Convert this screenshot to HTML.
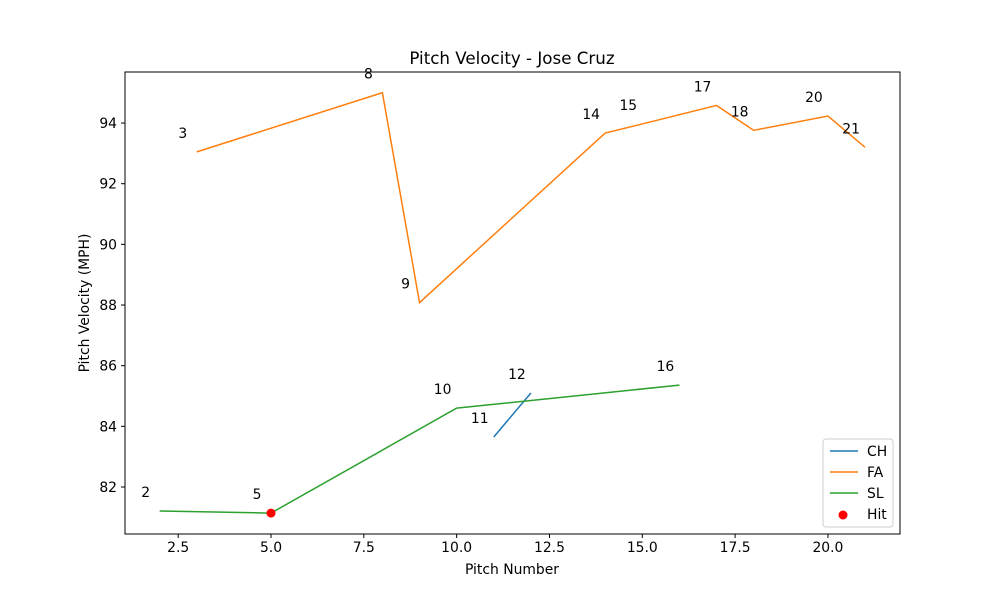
<!DOCTYPE html>
<html><head><meta charset="utf-8"><style>body{margin:0;background:#fff}svg{display:block;font-family:"DejaVu Sans","Liberation Sans",sans-serif}</style></head>
<body>
<svg id="chart" width="1000" height="600">
<rect x="0" y="0" width="1000" height="600" fill="#fff"/>
<text x="512" y="64" text-anchor="middle" font-size="16.7">Pitch Velocity - Jose Cruz</text>
<g id="plot"></g>
<rect x="125" y="72" width="775" height="462" fill="none" stroke="#000" stroke-width="1"/>
<text x="512" y="574" text-anchor="middle" font-size="13.9">Pitch Number</text>
<text transform="translate(89,303) rotate(-90)" text-anchor="middle" font-size="13.9">Pitch Velocity (MPH)</text>
<g>
<rect x="823" y="439" width="70" height="88" rx="3" fill="#fff" stroke="#ccc"/>
<line x1="830" y1="451" x2="858" y2="451" stroke="#1f77b4" stroke-width="1.5"/><text x="867" y="456" font-size="13.9">CH</text>
<line x1="830" y1="472" x2="858" y2="472" stroke="#ff7f0e" stroke-width="1.5"/><text x="867" y="477" font-size="13.9">FA</text>
<line x1="830" y1="493" x2="858" y2="493" stroke="#2ca02c" stroke-width="1.5"/><text x="867" y="498" font-size="13.9">SL</text>
<circle cx="843" cy="515" r="4.5" fill="red"/><text x="867" y="519" font-size="13.9">Hit</text>
</g>
</svg>
<script>
const xTicks=[2.5,5.0,7.5,10.0,12.5,15.0,17.5,20.0];
const yTicks=[82,84,86,88,90,92,94];
const chX=[11,12], chV=[83.65,85.1];
const faX=[3,8,9,14,15,17,18,20,21], faV=[93.05,95.0,88.08,93.67,93.97,94.58,93.76,94.23,93.2];
const slX=[2,5,10,16], slV=[81.21,81.14,84.6,85.36];
const hitX=[5], hitV=[81.14];
const NS="http://www.w3.org/2000/svg";
const sx=v=>271+(v-5)*37.13, sy=v=>487-(v-82)*30.33;
const g=document.getElementById('plot');
function el(t,a){const e=document.createElementNS(NS,t);for(const k in a)e.setAttribute(k,a[k]);g.appendChild(e);return e;}
xTicks.forEach(t=>{const x=sx(t);
const l=el('line',{x1:x,x2:x,y1:534,y2:538,stroke:'#000'});


const s=el('text',{x:x,y:552,'text-anchor':'middle','font-size':13.9});s.textContent=t.toFixed(1);

});
yTicks.forEach(t=>{const y=sy(t);
const l=el('line',{x1:121,x2:125,y1:y,y2:y,stroke:'#000'});


const s=el('text',{x:117,y:y+5,'text-anchor':'end','font-size':13.9});s.textContent=t;

});
function series(xs,vs,c,name){
const p=el('polyline',{points:xs.map((x,i)=>sx(x)+','+sy(vs[i])).join(' '),fill:'none',stroke:c,'stroke-width':1.5});


xs.forEach((x,i)=>{const s=el('text',{x:sx(x)-14,y:sy(vs[i])-14,'text-anchor':'middle','font-size':13.9});s.textContent=x;

});}
series(chX,chV,'#1f77b4','ch-line');
series(faX,faV,'#ff7f0e','fa-line');
series(slX,slV,'#2ca02c','sl-line');
hitX.forEach((x,i)=>{const c=el('circle',{cx:sx(x),cy:sy(hitV[i]),r:4.5,fill:'red'});

});
</script>
</body></html>
